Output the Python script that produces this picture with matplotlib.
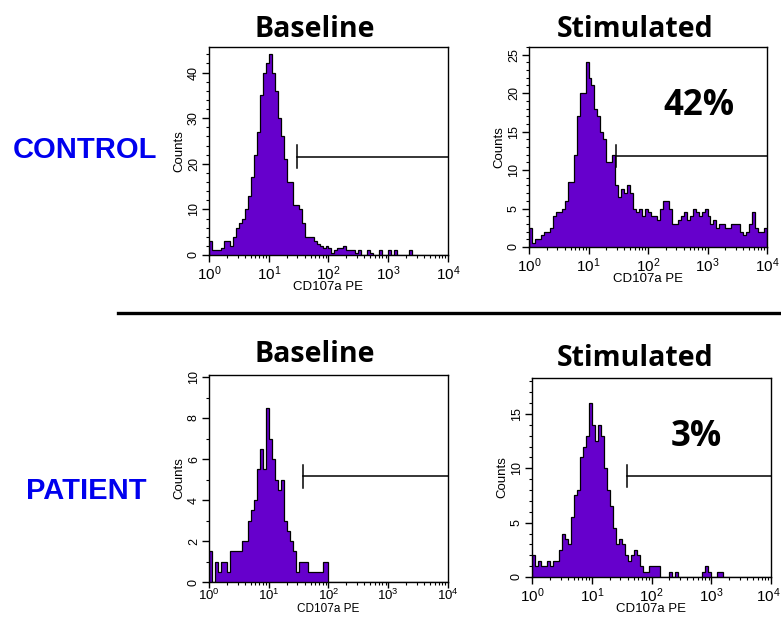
import numpy as np
import matplotlib
matplotlib.use("Agg")
import matplotlib.pyplot as plt
from matplotlib.lines import Line2D
from matplotlib.ticker import FixedLocator, LogLocator, NullFormatter
from matplotlib.transforms import ScaledTranslation

plt.rcParams['font.family'] = ['Liberation Sans', 'DejaVu Sans']
plt.rcParams['mathtext.fontset'] = 'custom'
plt.rcParams['mathtext.rm'] = 'Liberation Sans'
plt.rcParams['mathtext.it'] = 'Liberation Sans'

# ---------------- data (counts per 1/20-decade bin, 10^0 .. 10^4) ----------------
ctrl_base = [3, 1, 1, 1, 1.5, 3, 3, 2, 4, 6, 7, 8, 10, 13, 17, 22, 27, 35, 40, 42,
             44, 40, 36, 30, 26, 21, 16, 16, 11, 11, 10, 7, 4, 4, 4, 3, 2.5, 2, 1.5, 2,
             1.5, 0.5, 1, 1.5, 1.5, 2, 1, 1, 1, 0.5, 1, 0, 0, 1, 0.5, 0, 0, 1, 0, 0,
             1, 0, 1, 0, 0, 0, 0, 1, 0, 0, 0, 0, 0, 0, 0, 0, 0, 0, 0, 0]
ctrl_stim = [2.5, 0.5, 1, 1, 1.5, 2, 2, 2.5, 4, 4.5, 4.5, 5, 6, 8.5, 8.5, 12, 17, 20, 20, 24,
             22, 21, 18, 17, 15, 14, 11, 11, 12, 8, 6.5, 7.5, 7, 8, 7, 5, 4.5, 5, 4, 5,
             4.5, 4, 4, 3.5, 5, 6, 6, 5, 3, 3, 3.5, 4, 4.5, 3.5, 4, 5, 4.5, 4, 4.5, 5,
             4, 3, 3.5, 2.5, 3, 3, 2.5, 2.5, 3, 3, 3, 2, 1.5, 2, 3, 4.5, 2.5, 2, 2, 2.5]
pat_base = [1.5, 0, 1, 0.5, 1, 1, 0.5, 1.5, 1.5, 1.5, 1.5, 2, 2, 3, 3.5, 4, 5.5, 6.5, 5.5, 8.5,
            7, 6, 5, 4.5, 5, 3, 2.5, 2, 1.5, 0.5, 1, 1, 1, 0.5, 0.5, 0.5, 0.5, 0.5, 1, 1,
            0, 0, 0, 0, 0, 0, 0, 0, 0, 0, 0, 0, 0, 0, 0, 0, 0, 0, 0, 0,
            0, 0, 0, 0, 0, 0, 0, 0, 0, 0, 0, 0, 0, 0, 0, 0, 0, 0, 0, 0]
pat_stim = [2, 1, 1.5, 1, 1, 1.5, 1, 1.5, 1.5, 2.5, 4, 3.5, 3, 5.5, 7.5, 8, 11, 12, 13, 16,
            14, 12.5, 14, 13, 10, 8, 6.5, 4.5, 3, 3.5, 3, 2, 1.5, 2, 2.5, 2, 1, 0.5, 0.5, 1,
            1, 1, 1, 0, 0, 0, 0.5, 0, 0.5, 0, 0, 0, 0, 0, 0, 0, 0, 0.5, 1, 0.5,
            0, 0, 0.5, 0.5, 0, 0, 0, 0, 0, 0, 0, 0, 0, 0, 0, 0, 0, 0, 0, 0]

panel_titles = ["Baseline", "Stimulated", "Baseline", "Stimulated"]
row_labels = ["CONTROL", "PATIENT"]
percent_labels = ["42%", "3%"]
y_tops = [45.6, 26.0, 10.1, 18.3]
y_major = [[0, 10, 20, 30, 40], [0, 5, 10, 15, 20, 25], [0, 2, 4, 6, 8, 10], [0, 5, 10, 15]]
y_minor_step = [2, 1, 1, 1]
gate_x = [30, 29, 37, 39]
gate_y = [21.5, 11.8, 5.15, 9.3]
x_label = "CD107a PE"
y_label = "Counts"

series = [ctrl_base, ctrl_stim, pat_base, pat_stim]
edges = 10 ** np.linspace(0, 4, 81)

# ---------------- layout ----------------
W, H = 781, 617
fig = plt.figure(figsize=(W / 100, H / 100), dpi=100)

# (left, right, top, bottom) in pixels
boxes = [(209, 448, 47, 255), (529, 767, 47, 247), (209, 448, 375, 582), (532, 771, 378, 577)]
purple = '#6600cc'
xtick_len = [5, 5, 4, 5]
xtick_pad = [1.5, 1.5, 0.0, 1.5]
xtick_size = [11, 11, 9.5, 11]
xlab_pad = [-1, -1, 0, -1]
xlab_size = [9.5, 9.5, 8.5, 9.5]

for k, (l, r, t, b) in enumerate(boxes):
    ax = fig.add_axes([l / W, 1 - b / H, (r - l) / W, (b - t) / H])
    vals = np.array(series[k], dtype=float)
    ax.stairs(vals, edges, fill=True, color=purple, linewidth=0)
    ax.stairs(vals, edges, color='black', linewidth=0.9)
    ax.set_xscale('log')
    ax.set_xlim(1, 1e4)
    ax.set_ylim(0, y_tops[k])
    ax.set_xticks([1, 10, 100, 1000, 10000])
    ax.set_xticklabels([r'$\mathregular{10^{%d}}$' % e for e in range(5)], fontsize=xtick_size[k])
    ax.xaxis.set_minor_locator(LogLocator(base=10, subs=np.arange(2, 10)))
    ax.xaxis.set_minor_formatter(NullFormatter())
    ax.set_yticks(y_major[k])
    ax.set_yticklabels([str(v) for v in y_major[k]], fontsize=9, rotation=90, va='center')
    ax.yaxis.set_minor_locator(FixedLocator(np.arange(0, y_tops[k] + 0.01, y_minor_step[k])))
    ax.tick_params(axis='y', which='major', direction='out', length=5, width=1, pad=1.5)
    ax.tick_params(axis='x', which='major', direction='out', length=xtick_len[k], width=1,
                   pad=xtick_pad[k])
    ax.tick_params(axis='both', which='minor', direction='out', length=2.5, width=0.8)
    for s in ax.spines.values():
        s.set_linewidth(1.0)
    ax.set_xlabel(x_label, fontsize=xlab_size[k], labelpad=xlab_pad[k])
    ax.set_ylabel(y_label, fontsize=9.5, labelpad=2)
    if k == 3:
        lab = ax.get_xticklabels()[-1]
        lab.set_transform(lab.get_transform() + ScaledTranslation(-3 / 100, 0, fig.dpi_scale_trans))
    # gate marker
    hh = 0.055 * y_tops[k]
    ax.plot([gate_x[k], 1e4], [gate_y[k], gate_y[k]], color='black', lw=1.1, clip_on=False)
    ax.plot([gate_x[k], gate_x[k]], [gate_y[k] - hh, gate_y[k] + hh], color='black', lw=1.1)

# panel titles
title_pos = [(315, 37), (635, 37), (315, 362), (635, 366)]
for txt, (x, y) in zip(panel_titles, title_pos):
    fig.text(x / W, 1 - y / H, txt, ha='center', va='baseline', fontsize=20.5,
             fontweight='bold', family=['Open Sans', 'DejaVu Sans'])

# row labels
for txt, (x, y) in zip(row_labels, [(85, 158), (86, 499)]):
    fig.text(x / W, 1 - y / H, txt, ha='center', va='baseline', fontsize=21,
             fontweight='bold', color='#0000ee')

# percentages
for txt, (x, y) in zip(percent_labels, [(699, 115), (696, 446)]):
    fig.text(x / W, 1 - y / H, txt, ha='center', va='baseline', fontsize=25,
             fontweight='bold', family=['Open Sans', 'DejaVu Sans'])

# separator line
fig.add_artist(Line2D([118 / W, 1.0], [1 - 313 / H, 1 - 313 / H], color='black', lw=2.4))

fig.savefig('out.png', dpi=100)
